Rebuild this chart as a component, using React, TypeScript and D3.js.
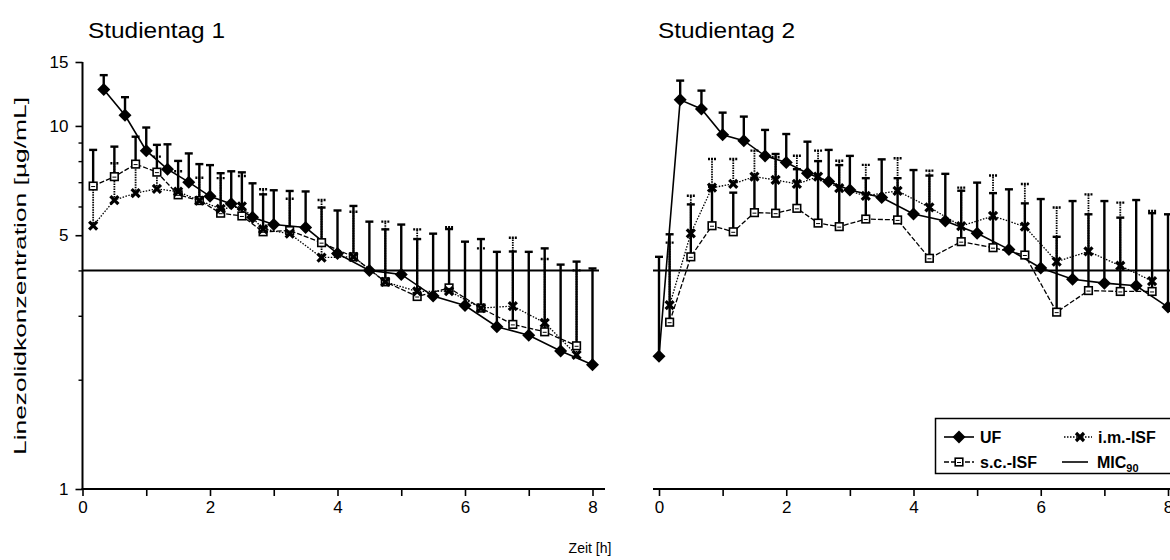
import React, { useEffect, useRef } from 'react';
import * as d3 from 'd3';

// sampling times [h]
const ufTimesDay1 = [0.333, 0.667, 1, 1.333, 1.667, 2, 2.333, 2.667, 3, 3.5, 4, 4.5, 5, 5.5, 6, 6.5, 7, 7.5, 8];
const ufTimesDay2 = [0, 0.333, 0.667, 1, 1.333, 1.667, 2, 2.333, 2.667, 3, 3.5, 4, 4.5, 5, 5.5, 6, 6.5, 7, 7.5, 8];
const mdTimes = [0.167, 0.5, 0.833, 1.167, 1.5, 1.833, 2.167, 2.5, 2.833, 3.25, 3.75, 4.25, 4.75, 5.25, 5.75, 6.25, 6.75, 7.25, 7.75];

// Studientag 1
const uf1 = [12.6, 10.7, 8.55, 7.6, 7.0, 6.4, 6.1, 5.6, 5.35, 5.25, 4.45, 4.0, 3.9, 3.4, 3.2, 2.8, 2.65, 2.4, 2.2];
const uf1Sd = [1.2, 1.3, 1.35, 1.3, 1.4, 1.4, 1.4, 1.35, 1.3, 1.35, 1.4, 1.45, 1.45, 1.65, 1.6, 1.7, 1.85, 1.75, 1.85];
const sc1 = [6.83, 7.25, 7.85, 7.46, 6.46, 6.23, 5.75, 5.65, 5.11, 5.15, 4.77, 4.36, 3.72, 3.39, 3.58, 3.15, 2.84, 2.71, 2.48];
const sc1Sd = [1.76, 1.52, 1.49, 1.41, 1.55, 1.62, 1.66, 1.8, 1.37, 1.47, 1.19, 1.66, 1.47, 1.49, 1.62, 1.73, 1.67, 1.89, 1.75];
const im1 = [5.31, 6.25, 6.53, 6.71, 6.59, 6.23, 5.91, 6.0, 5.2, 5.05, 4.34, 4.36, 3.72, 3.5, 3.51, 3.15, 3.19, 2.87, 2.34];
const im1Sd = [1.49, 1.64, 1.47, 1.52, 0.91, 0.97, 1.27, 1.28, 1.49, 1.25, 1.91, 1.44, 1.73, 1.69, 1.75, 1.45, 1.73, 1.43, 1.66];

// Studientag 2
const uf2 = [2.32, 11.8, 11.14, 9.45, 9.11, 8.27, 7.93, 7.41, 7.03, 6.66, 6.35, 5.72, 5.47, 5.06, 4.57, 4.06, 3.78, 3.69, 3.63, 3.17];
const uf2Sd = [2.04, 1.53, 1.37, 1.43, 1.5, 1.48, 1.57, 1.64, 1.56, 1.61, 1.74, 1.84, 1.91, 1.92, 2.12, 2.23, 2.43, 2.52, 2.62, 2.54];
const sc2 = [2.88, 4.36, 5.31, 5.11, 5.77, 5.75, 5.93, 5.4, 5.28, 5.54, 5.51, 4.32, 4.8, 4.62, 4.41, 3.07, 3.52, 3.5, 3.5];
const sc2Sd = [2.15, 1.72, 1.49, 1.44, 1.43, 2.62, 1.67, 2.6, 2.52, 1.64, 1.67, 2.98, 1.83, 1.91, 1.71, 1.88, 2.19, 2.09, 2.25];
const im2 = [3.21, 5.06, 6.76, 6.92, 7.25, 7.1, 6.92, 7.25, 6.74, 6.42, 6.62, 5.97, 5.3, 5.65, 5.28, 4.23, 4.51, 4.12, 3.74];
const im2Sd = [1.56, 1.36, 1.35, 1.19, 1.3, 1.1, 1.36, 1.3, 1.28, 1.39, 1.53, 1.56, 1.46, 1.65, 1.64, 1.73, 1.97, 2.03, 2.09];

const mic90 = 4;
const xTicks = [0, 1, 2, 3, 4, 5, 6, 7, 8];
const yTicks = [1, 5, 10, 15];
const yMinorTicks = [2, 3, 4, 6, 7, 8, 9];

const font = '"Liberation Sans", Arial, Helvetica, sans-serif';

const App = () => {
  const svgRef = useRef(null);

  useEffect(() => {
    const svg = d3.select(svgRef.current);
    svg.selectAll('*').remove();

    const y = d3.scaleLog().domain([1, 15]).range([489, 62]);
    const x1 = d3.scaleLinear().domain([0, 8]).range([82.5, 592.5]);
    const x2 = d3.scaleLinear().domain([0, 8]).range([659, 1168]);

    const diamondPath = 'M0,-6.5L6.5,0L0,6.5L-6.5,0Z';

    const drawMarker = (g, kind, cx, cy) => {
      if (kind === 'diamond') {
        g.append('path').attr('d', diamondPath).attr('transform', `translate(${cx},${cy})`).attr('fill', '#000');
      } else if (kind === 'square') {
        g.append('rect').attr('x', cx - 3.8).attr('y', cy - 3.8).attr('width', 7.6).attr('height', 7.6)
          .attr('fill', '#fff').attr('stroke', '#000').attr('stroke-width', 1.6);
        g.append('line').attr('x1', cx - 2).attr('x2', cx + 2).attr('y1', cy + 0.5).attr('y2', cy + 0.5)
          .attr('stroke', '#000').attr('stroke-width', 1);
      } else {
        g.append('path').attr('d', 'M-4,-4L4,4M-4,4L4,-4').attr('transform', `translate(${cx},${cy})`)
          .attr('stroke', '#000').attr('stroke-width', 3.2).attr('fill', 'none');
      }
    };

    const drawPanel = (x, series, lineStart, lineEnd) => {
      const g = svg.append('g');

      // MIC90 reference line
      g.append('line')
        .attr('x1', lineStart).attr('x2', lineEnd)
        .attr('y1', y(mic90)).attr('y2', y(mic90))
        .attr('stroke', '#000').attr('stroke-width', 2);

      // upper error bars (SD)
      series.forEach(s => {
        const eb = g.append('g');
        s.mean.forEach((m, i) => {
          const cx = x(s.times[i]);
          const top = y(m + s.sd[i]);
          eb.append('line').attr('x1', cx).attr('x2', cx).attr('y1', y(m)).attr('y2', top)
            .attr('stroke', '#000').attr('stroke-width', s.barWidth).attr('stroke-dasharray', s.barDash);
          eb.append('line').attr('x1', cx - 4).attr('x2', cx + 4).attr('y1', top).attr('y2', top)
            .attr('stroke', '#000').attr('stroke-width', 2.4).attr('stroke-dasharray', s.capDash);
        });
      });

      // connecting lines
      series.forEach(s => {
        const line = d3.line().x((d, i) => x(s.times[i])).y(d => y(d));
        g.append('path').attr('d', line(s.mean))
          .attr('fill', 'none').attr('stroke', '#000')
          .attr('stroke-width', s.lineWidth).attr('stroke-dasharray', s.dash);
      });

      // symbols
      series.forEach(s => {
        const mg = g.append('g');
        s.mean.forEach((m, i) => drawMarker(mg, s.marker, x(s.times[i]), y(m)));
      });
    };

    const seriesFor = (uf, ufSd, ufT, sc, scSd, im, imSd) => [
      { times: mdTimes, mean: sc, sd: scSd, marker: 'square', dash: '5,2', lineWidth: 1.3, barWidth: 2.4, barDash: null, capDash: null },
      { times: mdTimes, mean: im, sd: imSd, marker: 'cross', dash: '1.5,1.5', lineWidth: 1.3, barWidth: 1.8, barDash: '1.5,1', capDash: '2,1' },
      { times: ufT, mean: uf, sd: ufSd, marker: 'diamond', dash: null, lineWidth: 1.6, barWidth: 2.4, barDash: null, capDash: null },
    ];

    drawPanel(x1, seriesFor(uf1, uf1Sd, ufTimesDay1, sc1, sc1Sd, im1, im1Sd), x1(0), 599);
    drawPanel(x2, seriesFor(uf2, uf2Sd, ufTimesDay2, sc2, sc2Sd, im2, im2Sd), 653, 1170);

    // x axes
    const xAxisFor = (x, start, end) => {
      const ax = svg.append('g').attr('transform', `translate(0,${y(1)})`)
        .call(d3.axisBottom(x).tickValues(xTicks).tickSize(7).tickPadding(5)
          .tickFormat(d => (+d % 2 === 0 ? String(d) : '')));
      ax.select('.domain').remove();
      ax.selectAll('line').attr('stroke-width', 1.6);
      ax.selectAll('text').attr('font-size', 17).attr('font-family', font).attr('fill', '#000');
      svg.append('line').attr('x1', start).attr('x2', end).attr('y1', y(1)).attr('y2', y(1))
        .attr('stroke', '#000').attr('stroke-width', 2);
    };
    xAxisFor(x1, x1(0) - 1, 605);
    xAxisFor(x2, 653, 1170);

    // y axis (day 1 only)
    const ya = svg.append('g').attr('transform', `translate(${x1(0)},0)`)
      .call(d3.axisLeft(y).tickValues(yTicks).tickSize(7).tickPadding(7).tickFormat(d3.format('d')));
    ya.select('.domain').remove();
    ya.selectAll('line').attr('stroke-width', 1.6);
    ya.selectAll('text').attr('font-size', 17).attr('font-family', font).attr('fill', '#000');
    const ym = svg.append('g').attr('transform', `translate(${x1(0)},0)`)
      .call(d3.axisLeft(y).tickValues(yMinorTicks).tickSize(4).tickFormat(() => ''));
    ym.select('.domain').remove();
    ym.selectAll('line').attr('stroke-width', 1.4);
    svg.append('line').attr('x1', x1(0)).attr('x2', x1(0)).attr('y1', y(15)).attr('y2', y(1) + 1)
      .attr('stroke', '#000').attr('stroke-width', 2);

    // titles
    svg.append('text').attr('x', 88).attr('y', 38).attr('font-size', 22).attr('font-family', font)
      .attr('textLength', 137).attr('lengthAdjust', 'spacingAndGlyphs').text('Studientag 1');
    svg.append('text').attr('x', 658).attr('y', 38).attr('font-size', 22).attr('font-family', font)
      .attr('textLength', 137).attr('lengthAdjust', 'spacingAndGlyphs').text('Studientag 2');

    svg.append('text')
      .attr('transform', 'translate(26,276) rotate(-90)')
      .attr('text-anchor', 'middle').attr('font-size', 16).attr('font-family', font)
      .attr('textLength', 358).attr('lengthAdjust', 'spacingAndGlyphs')
      .text('Linezolidkonzentration [µg/mL]');

    svg.append('text').attr('x', 590).attr('y', 553).attr('text-anchor', 'middle')
      .attr('font-size', 14).attr('font-family', font).text('Zeit [h]');

    // legend
    const lg = svg.append('g');
    lg.append('rect').attr('x', 935.5).attr('y', 418.5).attr('width', 260).attr('height', 55)
      .attr('fill', '#fff').attr('stroke', '#000').attr('stroke-width', 1.5);
    const row1 = 437, row2 = 462;
    lg.append('line').attr('x1', 944).attr('x2', 974).attr('y1', row1).attr('y2', row1)
      .attr('stroke', '#000').attr('stroke-width', 1.6);
    drawMarker(lg, 'diamond', 959, row1);
    lg.append('line').attr('x1', 1064).attr('x2', 1092).attr('y1', row1).attr('y2', row1)
      .attr('stroke', '#000').attr('stroke-width', 1.3).attr('stroke-dasharray', '1.5,1.5');
    drawMarker(lg, 'cross', 1080, row1);
    lg.append('line').attr('x1', 944).attr('x2', 974).attr('y1', row2).attr('y2', row2)
      .attr('stroke', '#000').attr('stroke-width', 1.3).attr('stroke-dasharray', '5,2');
    drawMarker(lg, 'square', 959, row2);
    lg.append('line').attr('x1', 1062).attr('x2', 1088).attr('y1', row2).attr('y2', row2)
      .attr('stroke', '#000').attr('stroke-width', 1.6);

    const legendText = (tx, ty, label) => lg.append('text').attr('x', tx).attr('y', ty + 6)
      .attr('font-size', 16).attr('font-weight', 'bold').attr('font-family', font).text(label);
    legendText(980, row1, 'UF');
    legendText(1098, row1, 'i.m.-ISF');
    legendText(980, row2, 's.c.-ISF');
    const mic = legendText(1097, row2, 'MIC');
    mic.append('tspan').attr('font-size', 11).attr('dy', 4).text('90');
  }, []);

  return (
    <svg ref={svgRef} width={1170} height={560}
      style={{ position: 'absolute', left: 0, top: 0, background: '#fff' }} />
  );
};

export default App;
